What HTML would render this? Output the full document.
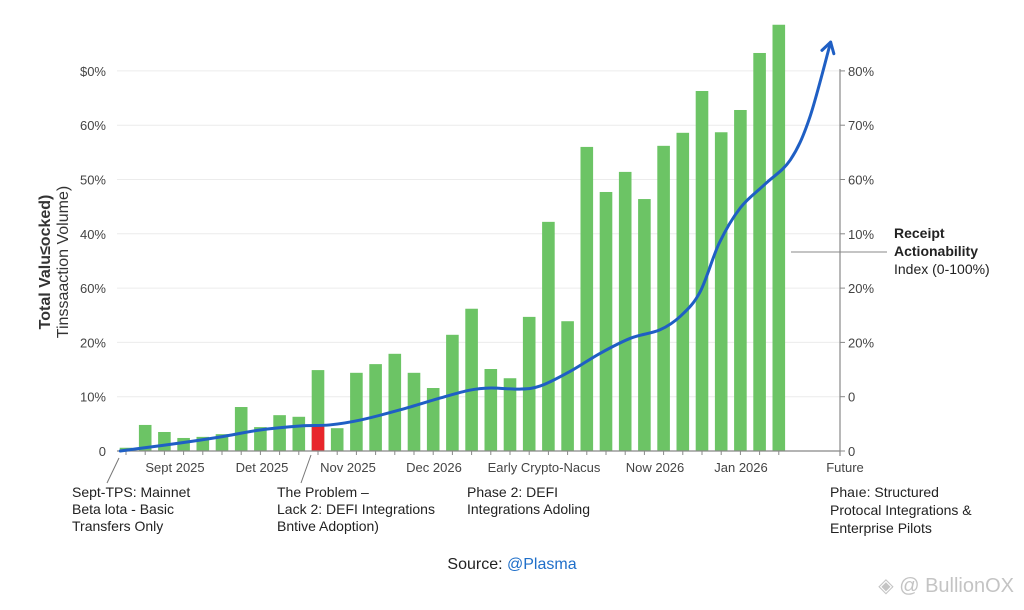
<!DOCTYPE html>
<html><head><meta charset="utf-8"><style>
body{margin:0;background:#fff;width:1024px;height:610px;overflow:hidden;font-family:"Liberation Sans",sans-serif}
svg{display:block}
</style></head><body>
<svg id="c" width="1024" height="610" viewBox="0 0 1024 610"></svg>
<script>
const leftTicks=["0","10%","20%","60%","40%","50%","60%","$0%"];
const rightTicks=["0","0","20%","20%","10%","60%","70%","80%"];
const barValues=[0.6,4.8,3.5,2.4,2.6,3.1,8.1,4.4,6.6,6.3,14.9,4.2,14.4,16.0,17.9,14.4,11.6,21.4,26.2,15.1,13.4,24.7,42.2,23.9,56.0,47.7,51.4,46.4,56.2,58.6,66.3,58.7,62.8,73.3,78.5];
const redIndex=[10];
const redValues=[4.6];
const lineIdx=[-0.3,0.47,2.81,4.9,6.98,9.06,10.6,12.2,14.3,16.4,17.9,19.0,20.5,21.6,23.1,24.7,26.3,27.8,28.9,29.9,30.9,32.0,33.3,34.6,35.6,36.7];
const lineVal=[0,0.37,1.47,2.58,3.87,4.6,4.8,5.7,7.6,9.8,11.2,11.6,11.4,12.0,14.6,18.0,20.8,22.3,24.9,29.3,38.3,44.8,49.2,53.6,61.3,75.3];
const xLabels=["Sept 2025","Det 2025","Nov 2025","Dec 2026","Early Crypto-Nacus","Now 2026","Jan 2026","Future"];
const xLabelPos=[175,262,348,434,544,655,741,845];

const NS="http://www.w3.org/2000/svg";
const svg=document.getElementById('c');
function el(t,a,txt){const e=document.createElementNS(NS,t);for(const k in a)e.setAttribute(k,a[k]);if(txt!==undefined)e.textContent=txt;svg.appendChild(e);return e;}
const x0=117,x1=840,yB=451,pxPer=5.43;
const y=v=>yB-v*pxPer;
const xi=i=>126+i*19.2;

for(let i=0;i<leftTicks.length;i++){
  const yy=y(i*10);
  const g=el('line',{x1:x0,x2:x1,y1:yy,y2:yy,stroke:'#ececec','stroke-width':1});
  
  
  const t=el('text',{x:106,y:yy+5,'text-anchor':'end','font-size':13,fill:'#444'},leftTicks[i]);
  
  
  const r=el('text',{x:848,y:yy+5,'font-size':13,fill:'#444'},rightTicks[i]);
  
  
  const rt=el('line',{x1:x1,x2:x1+5,y1:yy,y2:yy,stroke:'#888'});
  
  
}
barValues.forEach((v,i)=>{
  const b=el('rect',{x:xi(i)-6.3,y:y(v),width:12.6,height:v*pxPer,fill:'#6cc465'});
  
  
  const tk=el('line',{x1:xi(i),x2:xi(i),y1:yB,y2:yB+4,stroke:'#888'});
  
  
});
redIndex.forEach((k,j)=>{
  const r=el('rect',{x:xi(k)-6.3,y:y(redValues[j]),width:12.6,height:redValues[j]*pxPer,fill:'#e8262b'});
  
  
});
const ax=el('line',{x1:x0,x2:x1,y1:yB,y2:yB,stroke:'#888','stroke-width':1.2});


const ra=el('line',{x1:x1,x2:x1,y1:69,y2:yB+5,stroke:'#888','stroke-width':1.2});



// smooth line
const pts=lineIdx.map((d,i)=>[xi(d),y(lineVal[i])]);
let d=`M${pts[0][0]},${pts[0][1]}`;
for(let i=0;i<pts.length-1;i++){
  const p0=pts[Math.max(0,i-1)],p1=pts[i],p2=pts[i+1],p3=pts[Math.min(pts.length-1,i+2)];
  d+=` C${p1[0]+(p2[0]-p0[0])/6},${p1[1]+(p2[1]-p0[1])/6} ${p2[0]-(p3[0]-p1[0])/6},${p2[1]-(p3[1]-p1[1])/6} ${p2[0]},${p2[1]}`;
}
const ln=el('path',{d:d,fill:'none',stroke:'#1f5fc4','stroke-width':3,'stroke-linecap':'round'});


const e=pts[pts.length-1],p=pts[pts.length-2];
const ang=Math.atan2(e[1]-p[1],e[0]-p[0]);
const ah=el('path',{d:`M${e[0]+12*Math.cos(ang+2.6)},${e[1]+12*Math.sin(ang+2.6)} L${e[0]},${e[1]} L${e[0]+12*Math.cos(ang-2.6)},${e[1]+12*Math.sin(ang-2.6)}`,fill:'none',stroke:'#1f5fc4','stroke-width':3,'stroke-linecap':'round','stroke-linejoin':'round'});



xLabels.forEach((s,i)=>{
  const t=el('text',{x:xLabelPos[i],y:472,'text-anchor':'middle','font-size':13,fill:'#444'},s);
  
  
});
</script>
<svg width="1024" height="610" style="position:absolute;left:0;top:0">
  <g font-family="Liberation Sans, sans-serif">
    <g transform="translate(50,262) rotate(-90)">
      <text x="0" y="0" text-anchor="middle" font-size="16" font-weight="bold" fill="#333">Total Valu≤ocked)</text>
      <text x="0" y="18" text-anchor="middle" font-size="16" fill="#333">Tinssaaction Volume)</text>
    </g>
    <line x1="119" y1="458" x2="107" y2="483" stroke="#777"/>
    <line x1="311" y1="455" x2="301" y2="483" stroke="#777"/>
    <g font-size="14" fill="#222">
      <text x="72" y="497"><tspan x="72">Sept-TPS: Mainnet</tspan><tspan x="72" dy="17">Beta lota - Basic</tspan><tspan x="72" dy="17">Transfers Only</tspan></text>
      <text x="277" y="497"><tspan x="277">The Problem –</tspan><tspan x="277" dy="17">Lack 2: DEFI Integrations</tspan><tspan x="277" dy="17">Bntive Adoption)</tspan></text>
      <text x="467" y="497"><tspan x="467">Phase 2: DEFI</tspan><tspan x="467" dy="17">Integrations Adoling</tspan></text>
      <text x="830" y="497"><tspan x="830">Phaıe: Structured</tspan><tspan x="830" dy="18">Protocal Integrations &amp;</tspan><tspan x="830" dy="18">Enterprise Pilots</tspan></text>
    </g>
    <line x1="791" y1="252" x2="887" y2="252" stroke="#888"/>
    <text font-size="14" fill="#222"><tspan x="894" y="238" font-weight="bold">Receipt</tspan><tspan x="894" y="256" font-weight="bold">Actionability</tspan><tspan x="894" y="274">Index (0-100%)</tspan></text>
    <text x="512" y="569" text-anchor="middle" font-size="16" fill="#222">Source: <tspan fill="#1f6fc9">@Plasma</tspan></text>
    <text x="1014" y="592" text-anchor="end" font-size="20" fill="#c4c4c4">◈ @ BullionOX</text>
  </g>
</svg>
</body></html>
